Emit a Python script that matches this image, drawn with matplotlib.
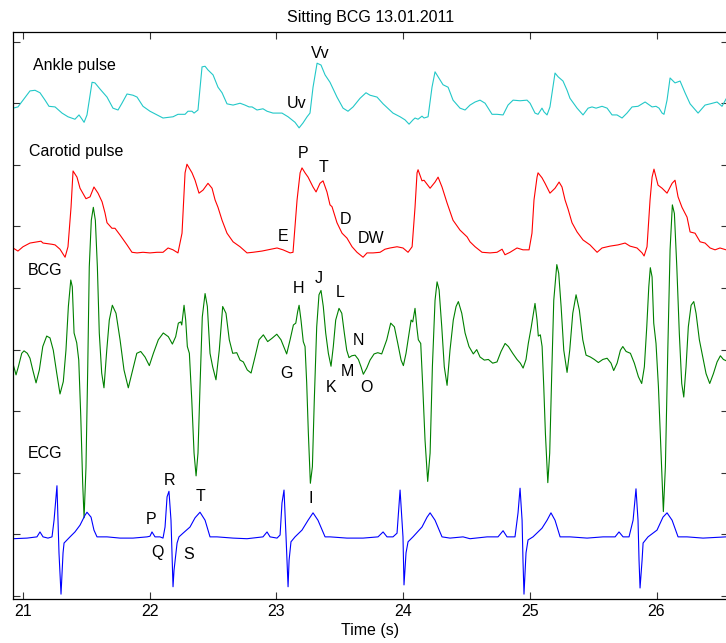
import matplotlib
matplotlib.use("Agg")
import matplotlib.pyplot as plt

plt.rcParams['font.family'] = ['Liberation Sans', 'DejaVu Sans']

# ---- Ankle pulse (cyan) ----
ankle_t = [20.921, 20.960, 21.000, 21.055, 21.095, 21.134, 21.174, 21.205, 21.253, 21.308,
           21.355, 21.410, 21.442, 21.466, 21.482, 21.505, 21.545, 21.568, 21.608, 21.663,
           21.710, 21.750, 21.781, 21.821, 21.868, 21.900, 21.947, 22.002, 22.058, 22.105,
           22.184, 22.223, 22.279, 22.302, 22.334, 22.350, 22.381, 22.413, 22.437, 22.460,
           22.500, 22.539, 22.571, 22.610, 22.658, 22.713, 22.752, 22.784, 22.808, 22.847,
           22.894, 22.926, 22.973, 23.044, 23.092, 23.147, 23.179, 23.210, 23.242, 23.265,
           23.289, 23.321, 23.352, 23.384, 23.423, 23.478, 23.526, 23.565, 23.605, 23.660,
           23.707, 23.739, 23.794, 23.842, 23.920, 23.976, 24.015, 24.047, 24.078, 24.094,
           24.118, 24.149, 24.165, 24.197, 24.228, 24.252, 24.276, 24.315, 24.355, 24.394,
           24.449, 24.489, 24.528, 24.568, 24.607, 24.647, 24.702, 24.741, 24.789, 24.828,
           24.868, 24.923, 24.978, 25.002, 25.041, 25.065, 25.096, 25.112, 25.136, 25.159,
           25.199, 25.223, 25.262, 25.294, 25.317, 25.373, 25.420, 25.460, 25.491, 25.523,
           25.570, 25.610, 25.649, 25.688, 25.728, 25.767, 25.807, 25.854, 25.910, 25.965,
           25.996, 26.020, 26.044, 26.059, 26.083, 26.107, 26.146, 26.186, 26.225, 26.265,
           26.328, 26.383, 26.423, 26.478, 26.517, 26.549]
ankle_v = [7.92, 7.94, 8.05, 8.20, 8.21, 8.17, 8.05, 7.95, 7.94, 7.84,
           7.78, 7.74, 7.81, 7.74, 7.69, 7.81, 8.34, 8.33, 8.23, 8.10,
           7.92, 7.89, 8.00, 8.15, 8.13, 8.10, 7.95, 7.87, 7.81, 7.76,
           7.78, 7.82, 7.82, 7.87, 7.87, 7.84, 7.89, 8.59, 8.60, 8.54,
           8.46, 8.26, 8.17, 7.99, 7.97, 8.00, 7.97, 7.94, 7.94, 7.89,
           7.91, 7.87, 7.84, 7.84, 7.78, 7.69, 7.60, 7.68, 7.78, 7.84,
           8.26, 8.65, 8.62, 8.46, 8.34, 8.10, 7.92, 7.87, 7.94, 8.08,
           8.17, 8.13, 8.10, 7.99, 7.84, 7.78, 7.73, 7.66, 7.73, 7.76,
           7.74, 7.79, 7.76, 7.78, 8.26, 8.51, 8.43, 8.30, 8.26, 8.05,
           7.92, 7.89, 7.97, 8.02, 8.05, 8.00, 7.82, 7.82, 7.81, 7.97,
           8.05, 8.04, 8.05, 8.00, 7.84, 7.82, 7.92, 7.86, 7.81, 7.94,
           8.49, 8.43, 8.36, 8.21, 8.08, 7.92, 7.81, 7.92, 7.94, 7.92,
           7.95, 7.92, 7.81, 7.81, 7.76, 7.84, 7.94, 7.95, 8.02, 7.94,
           7.95, 7.92, 7.84, 7.82, 8.05, 8.41, 8.33, 8.36, 8.17, 7.99,
           7.84, 7.97, 7.99, 8.02, 7.95, 8.07]

# ---- Carotid pulse (red) ----
carotid_t = [20.921, 20.960, 21.000, 21.055, 21.110, 21.142, 21.158, 21.229, 21.253, 21.292,
             21.332, 21.355, 21.379, 21.395, 21.426, 21.450, 21.497, 21.529, 21.560, 21.592,
             21.624, 21.647, 21.663, 21.702, 21.726, 21.766, 21.821, 21.860, 21.900, 21.947,
             22.002, 22.058, 22.105, 22.145, 22.184, 22.223, 22.255, 22.279, 22.294, 22.334,
             22.358, 22.389, 22.421, 22.460, 22.492, 22.516, 22.539, 22.571, 22.610, 22.658,
             22.713, 22.768, 22.815, 22.886, 22.934, 23.005, 23.052, 23.108, 23.131, 23.163,
             23.187, 23.202, 23.226, 23.250, 23.289, 23.313, 23.344, 23.368, 23.399, 23.423,
             23.439, 23.478, 23.518, 23.557, 23.597, 23.636, 23.660, 23.684, 23.715, 23.763,
             23.818, 23.857, 23.897, 23.952, 23.999, 24.039, 24.071, 24.094, 24.110, 24.118,
             24.149, 24.165, 24.213, 24.252, 24.276, 24.307, 24.347, 24.394, 24.449, 24.505,
             24.528, 24.568, 24.623, 24.686, 24.741, 24.781, 24.804, 24.844, 24.899, 24.946,
             24.994, 25.017, 25.033, 25.057, 25.065, 25.096, 25.120, 25.159, 25.199, 25.231,
             25.254, 25.278, 25.302, 25.333, 25.373, 25.420, 25.475, 25.531, 25.570, 25.633,
             25.696, 25.752, 25.791, 25.846, 25.886, 25.902, 25.925, 25.949, 25.965, 25.980,
             26.012, 26.044, 26.083, 26.123, 26.146, 26.170, 26.201, 26.241, 26.265, 26.304,
             26.344, 26.383, 26.423, 26.462, 26.501, 26.549]
carotid_v = [5.65, 5.60, 5.67, 5.73, 5.75, 5.76, 5.73, 5.71, 5.70, 5.63,
             5.50, 5.67, 6.31, 6.90, 6.80, 6.62, 6.45, 6.48, 6.64, 6.54,
             6.40, 6.22, 6.06, 5.97, 5.97, 5.86, 5.70, 5.58, 5.57, 5.58,
             5.57, 5.58, 5.58, 5.65, 5.62, 5.57, 5.89, 6.87, 7.01, 6.87,
             6.75, 6.54, 6.59, 6.70, 6.62, 6.43, 6.31, 6.10, 5.89, 5.75,
             5.67, 5.57, 5.58, 5.60, 5.62, 5.65, 5.62, 5.57, 5.58, 6.43,
             6.87, 6.95, 6.87, 6.80, 6.64, 6.56, 6.70, 6.74, 6.56, 6.35,
             6.32, 6.06, 5.89, 5.81, 5.67, 5.58, 5.54, 5.50, 5.57, 5.57,
             5.58, 5.63, 5.65, 5.67, 5.65, 5.58, 5.67, 6.31, 6.87, 6.92,
             6.74, 6.75, 6.62, 6.72, 6.80, 6.64, 6.38, 6.10, 5.94, 5.83,
             5.75, 5.67, 5.58, 5.57, 5.58, 5.63, 5.54, 5.58, 5.65, 5.62,
             5.62, 5.89, 6.43, 6.80, 6.87, 6.79, 6.70, 6.54, 6.62, 6.72,
             6.64, 6.43, 6.28, 6.06, 5.91, 5.78, 5.70, 5.58, 5.65, 5.68,
             5.70, 5.73, 5.68, 5.65, 5.57, 5.52, 5.67, 6.43, 6.80, 6.93,
             6.67, 6.62, 6.54, 6.70, 6.75, 6.48, 6.31, 6.15, 5.91, 5.89,
             5.75, 5.73, 5.65, 5.62, 5.65, 5.62]

# ---- BCG (green) ----
bcg_t = [20.924, 20.945, 20.963, 20.990, 21.008, 21.034, 21.055, 21.077, 21.103, 21.129,
         21.156, 21.187, 21.213, 21.239, 21.266, 21.292, 21.318, 21.339, 21.358, 21.377,
         21.389, 21.403, 21.424, 21.440, 21.456, 21.471, 21.482, 21.497, 21.511, 21.523,
         21.539, 21.555, 21.571, 21.587, 21.602, 21.621, 21.639, 21.661, 21.681, 21.705,
         21.734, 21.766, 21.797, 21.831, 21.866, 21.898, 21.929, 21.963, 21.997, 22.029,
         22.068, 22.107, 22.147, 22.179, 22.205, 22.226, 22.245, 22.253, 22.271, 22.284,
         22.297, 22.313, 22.332, 22.350, 22.366, 22.381, 22.397, 22.415, 22.437, 22.455,
         22.476, 22.497, 22.523, 22.549, 22.576, 22.602, 22.628, 22.655, 22.687, 22.713,
         22.739, 22.770, 22.800, 22.831, 22.863, 22.897, 22.931, 22.963, 23.003, 23.036,
         23.063, 23.081, 23.108, 23.134, 23.153, 23.168, 23.179, 23.194, 23.212, 23.226,
         23.239, 23.252, 23.268, 23.284, 23.299, 23.318, 23.336, 23.352, 23.370, 23.389,
         23.410, 23.431, 23.449, 23.468, 23.494, 23.516, 23.536, 23.555, 23.573, 23.595,
         23.621, 23.647, 23.668, 23.686, 23.713, 23.739, 23.771, 23.800, 23.831, 23.871,
         23.902, 23.931, 23.958, 23.984, 24.002, 24.023, 24.047, 24.063, 24.076, 24.094,
         24.108, 24.120, 24.139, 24.155, 24.173, 24.194, 24.213, 24.231, 24.252, 24.268,
         24.284, 24.305, 24.325, 24.347, 24.370, 24.396, 24.418, 24.436, 24.463, 24.489,
         24.520, 24.554, 24.581, 24.607, 24.641, 24.673, 24.707, 24.741, 24.773, 24.805,
         24.831, 24.865, 24.899, 24.925, 24.947, 24.970, 24.988, 25.010, 25.026, 25.041,
         25.057, 25.067, 25.083, 25.097, 25.110, 25.123, 25.142, 25.157, 25.173, 25.189,
         25.213, 25.228, 25.247, 25.268, 25.294, 25.315, 25.339, 25.365, 25.391, 25.418,
         25.444, 25.478, 25.509, 25.541, 25.576, 25.610, 25.641, 25.662, 25.689, 25.715,
         25.734, 25.760, 25.794, 25.825, 25.857, 25.883, 25.904, 25.923, 25.939, 25.951,
         25.965, 25.978, 25.996, 26.015, 26.036, 26.054, 26.070, 26.089, 26.107, 26.125,
         26.141, 26.160, 26.180, 26.199, 26.215, 26.233, 26.251, 26.273, 26.294, 26.312,
         26.338, 26.365, 26.391, 26.420, 26.449, 26.478, 26.504, 26.528, 26.549]
bcg_v = [3.75, 3.59, 3.72, 3.94, 3.98, 3.94, 3.86, 3.67, 3.46, 3.67,
         4.05, 4.22, 4.19, 3.99, 3.62, 3.28, 3.48, 3.99, 4.70, 5.13,
         5.02, 4.27, 4.11, 3.83, 2.91, 1.83, 1.27, 2.09, 3.72, 5.34,
         6.10, 6.31, 6.10, 5.34, 4.27, 3.62, 3.38, 3.99, 4.48, 4.72,
         4.59, 4.16, 3.67, 3.38, 3.67, 3.94, 3.97, 3.88, 3.74, 3.94,
         4.16, 4.27, 4.21, 4.09, 4.21, 4.43, 4.45, 4.40, 4.72, 4.48,
         4.05, 3.94, 3.18, 2.32, 1.95, 2.32, 3.40, 4.53, 4.91, 4.70,
         3.94, 3.72, 3.51, 3.99, 4.70, 4.59, 4.16, 3.94, 3.95, 3.83,
         3.80, 3.67, 3.62, 3.88, 4.16, 4.24, 4.13, 4.18, 4.25, 4.16,
         4.02, 3.93, 4.16, 4.40, 4.43, 4.62, 4.72, 4.48, 4.13, 4.05,
         3.46, 2.65, 1.83, 2.10, 3.18, 4.37, 4.89, 4.96, 4.70, 4.27,
         3.94, 3.73, 4.05, 4.48, 4.67, 4.59, 4.27, 3.99, 3.87, 3.90,
         3.91, 3.84, 3.72, 3.60, 3.70, 3.83, 3.93, 3.95, 3.93, 4.16,
         4.43, 4.37, 4.10, 3.83, 3.74, 3.94, 4.27, 4.48, 4.45, 4.67,
         4.37, 4.16, 4.10, 3.40, 2.53, 1.86, 2.32, 3.72, 4.80, 5.10,
         4.97, 4.37, 3.72, 3.42, 3.99, 4.48, 4.70, 4.78, 4.59, 4.27,
         4.05, 3.93, 4.00, 3.88, 3.83, 3.84, 3.78, 3.80, 3.97, 4.10,
         4.05, 3.94, 3.84, 3.78, 3.70, 3.84, 4.10, 4.35, 4.56, 4.75,
         4.48, 4.22, 4.24, 4.05, 3.40, 2.64, 1.84, 2.32, 3.61, 4.80,
         5.38, 5.24, 4.70, 3.99, 3.63, 3.99, 4.59, 4.89, 4.64, 4.16,
         3.91, 3.88, 3.84, 3.79, 3.84, 3.86, 3.78, 3.66, 3.78, 3.99,
         4.05, 3.97, 3.94, 3.78, 3.56, 3.45, 3.72, 4.37, 5.02, 5.33,
         5.18, 4.43, 4.10, 3.40, 2.32, 1.37, 2.10, 3.99, 5.62, 6.35,
         6.21, 5.35, 4.26, 3.45, 3.23, 3.72, 4.37, 4.72, 4.78, 4.59,
         4.16, 3.88, 3.61, 3.45, 3.61, 3.80, 3.90, 3.84, 3.82]

# ---- ECG (blue) ----
ecg_t = [20.921, 21.032, 21.110, 21.134, 21.158, 21.197, 21.229, 21.245, 21.268, 21.276,
         21.284, 21.300, 21.316, 21.324, 21.347, 21.371, 21.410, 21.450, 21.489, 21.505,
         21.537, 21.560, 21.584, 21.663, 21.766, 21.868, 21.979, 22.002, 22.018, 22.042,
         22.081, 22.105, 22.121, 22.137, 22.152, 22.168, 22.176, 22.184, 22.192, 22.216,
         22.231, 22.263, 22.318, 22.358, 22.397, 22.437, 22.476, 22.531, 22.658, 22.768,
         22.894, 22.926, 22.950, 23.005, 23.029, 23.044, 23.060, 23.076, 23.092, 23.100,
         23.115, 23.147, 23.202, 23.250, 23.289, 23.328, 23.384, 23.423, 23.557, 23.684,
         23.802, 23.842, 23.873, 23.920, 23.952, 23.976, 23.999, 24.007, 24.023, 24.039,
         24.078, 24.149, 24.189, 24.213, 24.252, 24.307, 24.370, 24.473, 24.528, 24.663,
         24.749, 24.789, 24.820, 24.860, 24.883, 24.907, 24.923, 24.939, 24.946, 24.954,
         24.970, 24.986, 25.025, 25.096, 25.136, 25.167, 25.199, 25.239, 25.317, 25.452,
         25.578, 25.673, 25.704, 25.736, 25.783, 25.815, 25.838, 25.854, 25.862, 25.870,
         25.886, 25.894, 25.933, 26.004, 26.051, 26.083, 26.123, 26.170, 26.241, 26.367,
         26.549]
ecg_v = [0.93, 0.94, 0.96, 1.04, 0.96, 0.94, 0.96, 1.23, 1.79, 1.23,
         0.70, 0.03, 0.70, 0.86, 0.91, 0.96, 1.04, 1.15, 1.31, 1.36,
         1.28, 1.07, 0.96, 0.96, 0.94, 0.94, 0.96, 0.97, 1.04, 0.96,
         0.96, 0.94, 1.12, 1.61, 1.70, 1.23, 0.70, 0.15, 0.42, 0.86,
         0.96, 1.02, 1.12, 1.27, 1.36, 1.23, 0.96, 0.96, 0.94, 0.93,
         0.96, 1.04, 0.96, 0.94, 0.99, 1.51, 1.72, 0.96, 0.15, 0.58,
         0.88, 0.96, 1.07, 1.23, 1.35, 1.23, 0.96, 0.96, 0.94, 0.94,
         0.96, 1.04, 0.96, 0.96, 1.02, 1.72, 0.96, 0.18, 0.70, 0.88,
         0.96, 1.12, 1.28, 1.35, 1.23, 0.96, 0.94, 0.96, 0.93, 0.96,
         0.96, 1.06, 0.96, 0.96, 0.96, 1.35, 1.75, 1.23, 0.58, 0.03,
         0.70, 0.91, 0.96, 1.10, 1.23, 1.35, 1.23, 0.96, 0.96, 0.94,
         0.96, 0.96, 1.04, 0.96, 0.96, 1.23, 1.74, 1.23, 0.58, 0.13,
         0.58, 0.86, 0.96, 1.07, 1.28, 1.35, 1.23, 0.96, 0.96, 0.94,
         0.96]

# signal names (left side)
names = ["Ankle pulse", "Carotid pulse", "BCG", "ECG"]
name_t = [21.079, 21.047, 21.039, 21.039]
name_v = [8.62, 7.22, 5.28, 2.32]

# wave point labels
point_labels = ["Vv", "Uv", "P", "T", "D", "E", "DW",
                "H", "J", "L", "N", "G", "K", "M", "O",
                "R", "T", "P", "Q", "S", "I"]
point_t = [23.344, 23.157, 23.210, 23.368, 23.542, 23.052, 23.747,
           23.171, 23.336, 23.502, 23.644, 23.076, 23.431, 23.557, 23.707,
           22.160, 22.397, 22.010, 22.058, 22.310, 23.273]
point_v = [8.81, 7.99, 7.18, 6.95, 6.12, 5.84, 5.81,
           5.00, 5.15, 4.92, 4.14, 3.62, 3.39, 3.64, 3.38,
           1.88, 1.61, 1.25, 0.70, 0.68, 1.59]

xticks = [21, 22, 23, 24, 25, 26]


def main():
    fig = plt.figure(figsize=(7.26, 6.43), dpi=100)
    ax = fig.add_axes([0.0179, 0.0684, 0.985, 0.8818])

    ax.plot(ankle_t, ankle_v, color='#22c8c8', lw=0.8)
    ax.plot(carotid_t, carotid_v, color='#ff0000', lw=0.8)
    ax.plot(bcg_t, bcg_v, color='#008000', lw=0.8)
    ax.plot(ecg_t, ecg_v, color='#0000ff', lw=0.8)

    for s, t, v in zip(names, name_t, name_v):
        ax.text(t, v, s, fontsize=11.5, ha='left', va='center')
    for s, t, v in zip(point_labels, point_t, point_v):
        ax.text(t, v, s, fontsize=11.5, ha='center', va='center')

    ax.set_xlim(20.921, 26.565)
    ax.set_ylim(-0.049, 9.156)
    ax.set_xticks(xticks)
    ax.set_xticklabels([str(x) for x in xticks])
    ax.set_yticks(range(10))
    ax.set_yticklabels([])
    ax.tick_params(direction='in', length=5, width=0.8, top=True, right=True,
                   labelsize=11.5, colors='#333333', labelcolor='black')
    for sp in ax.spines.values():
        sp.set_linewidth(0.9)

    ax.set_xlabel("Time (s)", fontsize=11.5, labelpad=3)
    ax.set_title("Sitting BCG 13.01.2011", fontsize=11.5, pad=7)

    fig.savefig("out.png", dpi=100)


if __name__ == "__main__":
    main()
